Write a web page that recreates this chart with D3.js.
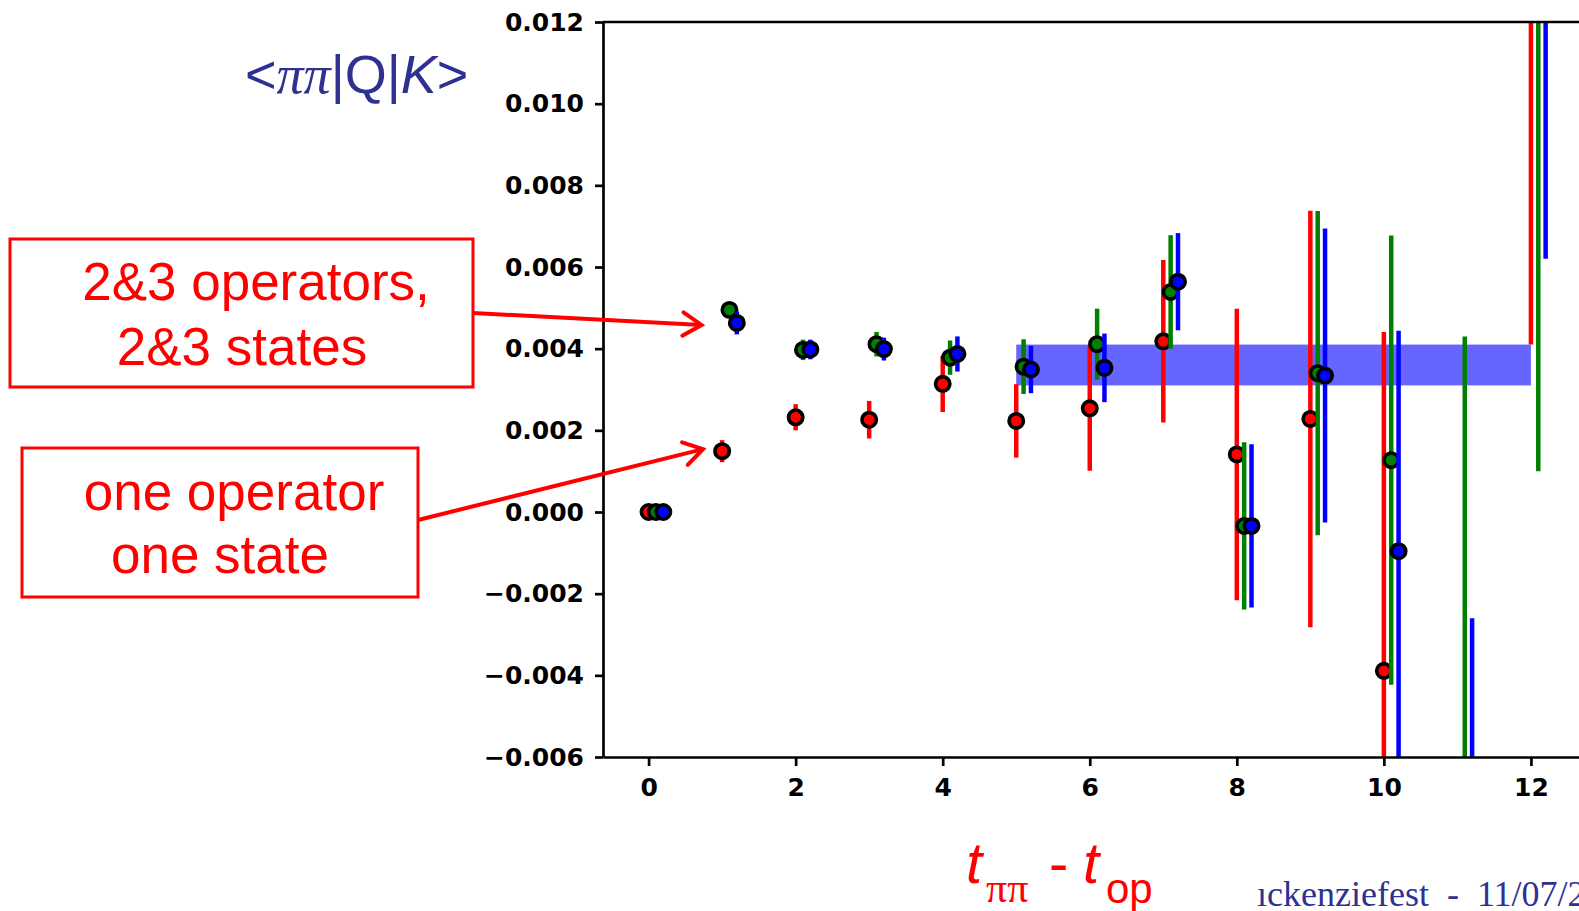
<!DOCTYPE html>
<html>
<head>
<meta charset="utf-8">
<script src="https://cdn.jsdelivr.net/npm/d3@7"></script>
<style>
  html, body { margin: 0; padding: 0; background: #fff; }
  svg { display: block; }
</style>
</head>
<body>
<svg id="chart" width="1579" height="911"></svg>
<script>
// ---------- data ----------
const tVals = [0, 1, 2, 3, 4, 5, 6, 7, 8, 9, 10, 11, 12];

// one operator, one state (red)
const redVals = [0.0000, 0.00149, 0.00232, 0.00226, 0.00314, 0.00223, 0.00254, 0.00418, 0.00141, 0.00228, -0.00389, null, 0.0165];
const redErrs = [0.00005, 0.00027, 0.00032, 0.00046, 0.00069, 0.00090, 0.00153, 0.00199, 0.00357, 0.00510, 0.00830, null, 0.0124];

// 2&3 operators (green)
const greenVals = [0.0000, 0.00495, 0.00397, 0.00411, 0.00378, 0.00356, 0.00411, 0.00539, -0.00034, 0.00340, 0.00127, -0.0090, 0.0135];
const greenErrs = [0.00005, 0.00010, 0.00025, 0.00030, 0.00042, 0.00067, 0.00087, 0.00139, 0.00205, 0.00397, 0.00550, 0.0133, 0.0125];

// 2&3 states (blue)
const blueVals = [0.0000, 0.00463, 0.00398, 0.00399, 0.00387, 0.00349, 0.00353, 0.00564, -0.00034, 0.00334, -0.00096, -0.0160, 0.0195];
const blueErrs = [0.00005, 0.00028, 0.00024, 0.00028, 0.00043, 0.00058, 0.00084, 0.00119, 0.00200, 0.00360, 0.00540, 0.0134, 0.0133];

// fitted band
const bandT = [5, 12];
const bandY = [0.0031, 0.0041];

const xTicks = [0, 2, 4, 6, 8, 10, 12];
const yTicks = [-0.006, -0.004, -0.002, 0.000, 0.002, 0.004, 0.006, 0.008, 0.010, 0.012];

// ---------- layout ----------
const svg = d3.select("#chart");
const x = d3.scaleLinear().domain([-0.62, 12.7]).range([603, 1582.4]);
const y = d3.scaleLinear().domain([-0.006, 0.012]).range([757, 22]);

const series = [
  { vals: redVals,   errs: redErrs,   color: "#ff0000", shift: 0.0 },
  { vals: greenVals, errs: greenErrs, color: "#008000", shift: 0.1 },
  { vals: blueVals,  errs: blueErrs,  color: "#0000ff", shift: 0.2 }
];

svg.append("defs").append("clipPath").attr("id", "plotclip")
  .append("rect")
  .attr("x", x.range()[0]).attr("y", y.range()[1])
  .attr("width", x.range()[1] - x.range()[0])
  .attr("height", y.range()[0] - y.range()[1]);

const plot = svg.append("g").attr("clip-path", "url(#plotclip)");

// band
plot.append("rect")
  .attr("x", x(bandT[0])).attr("width", x(bandT[1]) - x(bandT[0]))
  .attr("y", y(bandY[1])).attr("height", y(bandY[0]) - y(bandY[1]))
  .attr("fill", "#6666ff");

series.forEach(s => {
  const pts = tVals.map((t, i) => ({ t: t + s.shift, v: s.vals[i], e: s.errs[i] }))
    .filter(d => d.v !== null);
  const g = plot.append("g");
  g.selectAll("line").data(pts).join("line")
    .attr("x1", d => x(d.t)).attr("x2", d => x(d.t))
    .attr("y1", d => y(d.v - d.e)).attr("y2", d => y(d.v + d.e))
    .attr("stroke", s.color).attr("stroke-width", 4.5);
  g.selectAll("circle").data(pts).join("circle")
    .attr("cx", d => x(d.t)).attr("cy", d => y(d.v))
    .attr("r", 7.2)
    .attr("fill", s.color).attr("stroke", "#000").attr("stroke-width", 3.6);
});

// axes
const tickFont = "'DejaVu Sans', sans-serif";
const yAxis = svg.append("g").attr("transform", `translate(${x.range()[0]},0)`)
  .call(d3.axisLeft(y).tickValues(yTicks).tickFormat(d3.format(".3f"))
    .tickSize(8).tickSizeOuter(0).tickPadding(11));
const xAxis = svg.append("g").attr("transform", `translate(0,${y.range()[0]})`)
  .call(d3.axisBottom(x).tickValues(xTicks).tickFormat(d3.format("d"))
    .tickSize(9).tickSizeOuter(0).tickPadding(12));
[yAxis, xAxis].forEach(a => {
  a.select(".domain").attr("stroke", "#000").attr("stroke-width", 2.7);
  a.selectAll(".tick line").attr("stroke", "#000").attr("stroke-width", 2.7);
  a.selectAll(".tick text").attr("fill", "#000")
    .style("font-family", tickFont).style("font-weight", "bold").style("font-size", "25px");
});
// top spine
svg.append("line")
  .attr("x1", x.range()[0]).attr("x2", x.range()[1])
  .attr("y1", y.range()[1]).attr("y2", y.range()[1])
  .attr("stroke", "#000").attr("stroke-width", 2.7);

// ---------- y label ----------
const navy = "#2e3192";
const yl = svg.append("text").attr("x", 245).attr("y", 93)
  .attr("fill", navy).style("font-size", "54px")
  .style("font-family", "'Liberation Sans', Arial, sans-serif");
yl.append("tspan").text("<");
yl.append("tspan").style("font-family", "'Liberation Serif', 'Times New Roman', serif").style("font-style", "italic").text("ππ");
yl.append("tspan").text("|Q|");
yl.append("tspan").style("font-style", "italic").text("K");
yl.append("tspan").text(">");

// ---------- x label ----------
const xl = svg.append("text").attr("fill", "#ff0000")
  .style("font-family", "'Liberation Sans', Arial, sans-serif");
xl.append("tspan").attr("x", 966).attr("y", 883).style("font-size", "58px").style("font-style", "italic").text("t");
xl.append("tspan").attr("x", 986).attr("y", 902).style("font-size", "42px")
  .style("font-family", "'Liberation Serif', 'Times New Roman', serif").text("ππ");
xl.append("tspan").attr("x", 1049).attr("y", 883).style("font-size", "58px").text("-");
xl.append("tspan").attr("x", 1083).attr("y", 883).style("font-size", "58px").style("font-style", "italic").text("t");
xl.append("tspan").attr("x", 1106).attr("y", 903).style("font-size", "42px").text("op");

// ---------- footer ----------
svg.append("text").attr("x", 1257).attr("y", 906)
  .attr("fill", navy).style("font-size", "36px")
  .style("font-family", "'Liberation Serif', 'Times New Roman', serif")
  .style("white-space", "pre")
  .text("ıckenziefest  -  11/07/2");

// ---------- annotations ----------
const boxes = [
  { x0: 10, y0: 239, x1: 473, y1: 387,
    lines: [{ t: "2&3 operators,", cx: 256, by: 300 }, { t: "2&3 states", cx: 242, by: 365 }],
    from: [473, 313], to: [0.72, 0.00458] },
  { x0: 22, y0: 448, x1: 418, y1: 597,
    lines: [{ t: "one operator", cx: 234, by: 510 }, { t: "one state", cx: 220, by: 573 }],
    from: [418, 520], to: [0.74, 0.00154] }
];
const ann = svg.append("g");
boxes.forEach(b => {
  ann.append("rect").attr("x", b.x0).attr("y", b.y0)
    .attr("width", b.x1 - b.x0).attr("height", b.y1 - b.y0)
    .attr("fill", "none").attr("stroke", "#ff0000").attr("stroke-width", 3);
  b.lines.forEach(l => {
    ann.append("text").attr("x", l.cx).attr("y", l.by).attr("text-anchor", "middle")
      .attr("fill", "#ff0000").style("font-size", "53px")
      .style("font-family", "'Liberation Sans', Arial, sans-serif").text(l.t);
  });
  const tx = x(b.to[0]), ty = y(b.to[1]);
  const [fx, fy] = b.from;
  ann.append("line").attr("x1", fx).attr("y1", fy).attr("x2", tx).attr("y2", ty)
    .attr("stroke", "#ff0000").attr("stroke-width", 4);
  const ang = Math.atan2(ty - fy, tx - fx);
  const L = 22, h = 32 * Math.PI / 180;
  const p1 = [tx - L * Math.cos(ang - h), ty - L * Math.sin(ang - h)];
  const p2 = [tx - L * Math.cos(ang + h), ty - L * Math.sin(ang + h)];
  ann.append("path").attr("d", `M${p1[0]},${p1[1]}L${tx},${ty}L${p2[0]},${p2[1]}`)
    .attr("fill", "none").attr("stroke", "#ff0000").attr("stroke-width", 4)
    .attr("stroke-linecap", "round").attr("stroke-linejoin", "miter");
});
</script>
</body>
</html>
